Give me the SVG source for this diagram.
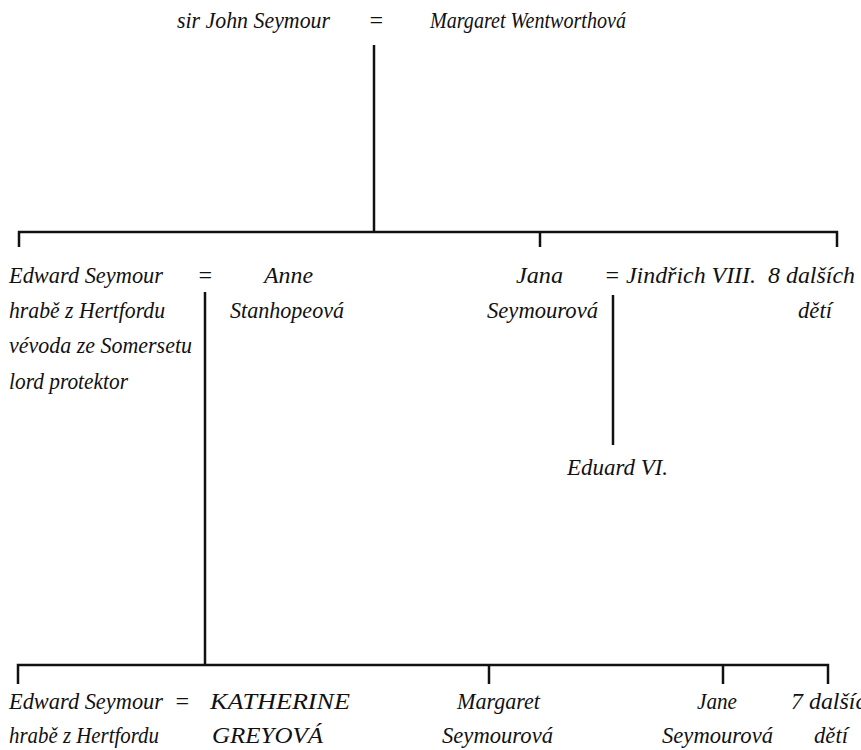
<svg xmlns="http://www.w3.org/2000/svg" width="861" height="750" viewBox="0 0 861 750">
  <style>
    text { font-family: "Liberation Serif", "DejaVu Serif", serif; font-style: italic; font-size: 24px; fill: #111; }
    .m { text-anchor: middle; }
    .link { stroke: #111; stroke-width: 2.5; fill: none; stroke-linecap: butt; }
  </style>
  <rect width="861" height="750" fill="#fff"/>

  <!-- lines of descent -->
  <g id="connectors" class="link">
    <path d="M374 45 V232"/>
    <path d="M19 247 V232 H837 V247"/>
    <path d="M540 232 V247"/>
    <path d="M205 292 V665"/>
    <path d="M613 295 V445"/>
    <path d="M18 684 V665 H828 V684"/>
    <path d="M489 665 V684"/>
    <path d="M723 665 V684"/>
  </g>

  <!-- generation 1 -->
  <g id="john-seymour"><text x="177" y="28" textLength="153" lengthAdjust="spacingAndGlyphs">sir John Seymour</text></g>
  <g id="marriage-1"><text class="m" x="376" y="28">=</text></g>
  <g id="margaret-wentworth"><text x="430" y="28" textLength="196" lengthAdjust="spacingAndGlyphs">Margaret Wentworthová</text></g>

  <!-- generation 2 -->
  <g id="edward-seymour-1">
    <text x="9" y="283" textLength="154" lengthAdjust="spacingAndGlyphs">Edward Seymour</text>
    <text x="9" y="318" textLength="156" lengthAdjust="spacingAndGlyphs">hrabě z Hertfordu</text>
    <text x="9" y="353" textLength="183" lengthAdjust="spacingAndGlyphs">vévoda ze Somersetu</text>
    <text x="9" y="389" textLength="119" lengthAdjust="spacingAndGlyphs">lord protektor</text>
  </g>
  <g id="marriage-2"><text class="m" x="205" y="283">=</text></g>
  <g id="anne-stanhope">
    <text x="264" y="283" textLength="49" lengthAdjust="spacingAndGlyphs">Anne</text>
    <text x="230" y="318" textLength="114" lengthAdjust="spacingAndGlyphs">Stanhopeová</text>
  </g>
  <g id="jane-seymour">
    <text x="516" y="283" textLength="47" lengthAdjust="spacingAndGlyphs">Jana</text>
    <text x="487" y="318" textLength="111" lengthAdjust="spacingAndGlyphs">Seymourová</text>
  </g>
  <g id="marriage-3"><text class="m" x="612" y="283">=</text></g>
  <g id="henry-viii"><text x="626" y="283" textLength="130" lengthAdjust="spacingAndGlyphs">Jindřich VIII.</text></g>
  <g id="other-children-1">
    <text x="768" y="283" textLength="87" lengthAdjust="spacingAndGlyphs">8 dalších</text>
    <text x="798" y="318" textLength="34" lengthAdjust="spacingAndGlyphs">dětí</text>
  </g>

  <!-- generation 3 -->
  <g id="edward-vi"><text x="567" y="475" textLength="101" lengthAdjust="spacingAndGlyphs">Eduard VI.</text></g>

  <g id="edward-seymour-2">
    <text x="9" y="709" textLength="154" lengthAdjust="spacingAndGlyphs">Edward Seymour</text>
    <text x="9" y="743" textLength="150" lengthAdjust="spacingAndGlyphs">hrabě z Hertfordu</text>
  </g>
  <g id="marriage-4"><text class="m" x="182" y="709">=</text></g>
  <g id="katherine-grey">
    <text x="210" y="709" textLength="140" lengthAdjust="spacingAndGlyphs">KATHERINE</text>
    <text x="212" y="743" textLength="111" lengthAdjust="spacingAndGlyphs">GREYOVÁ</text>
  </g>
  <g id="margaret-seymour">
    <text x="457" y="709" textLength="83" lengthAdjust="spacingAndGlyphs">Margaret</text>
    <text x="442" y="743" textLength="111" lengthAdjust="spacingAndGlyphs">Seymourová</text>
  </g>
  <g id="jane-seymour-2">
    <text x="697" y="709" textLength="40" lengthAdjust="spacingAndGlyphs">Jane</text>
    <text x="662" y="743" textLength="111" lengthAdjust="spacingAndGlyphs">Seymourová</text>
  </g>
  <g id="other-children-2">
    <text x="791" y="709" textLength="87" lengthAdjust="spacingAndGlyphs">7 dalších</text>
    <text x="814" y="743" textLength="34" lengthAdjust="spacingAndGlyphs">dětí</text>
  </g>
</svg>
